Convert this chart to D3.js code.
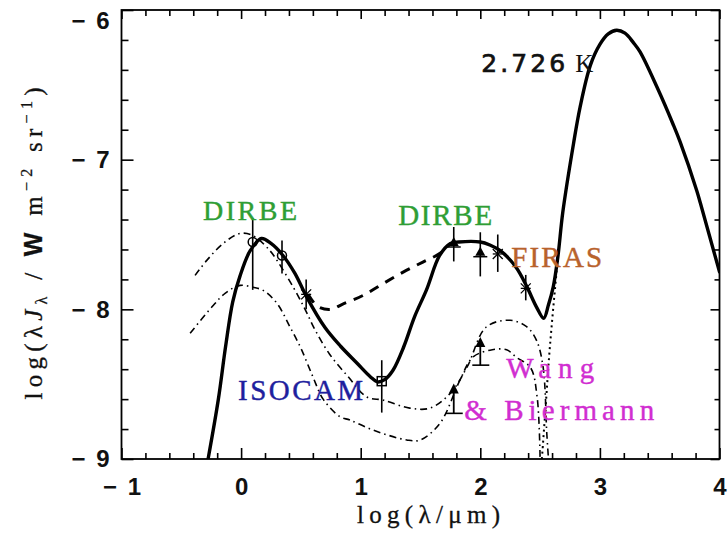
<!DOCTYPE html>
<html>
<head>
<meta charset="utf-8">
<script src="https://cdn.jsdelivr.net/npm/d3@7"></script>
<style>
  body { margin: 0; background: #fff; }
  svg { display: block; }
</style>
</head>
<body>
<svg id="chart" width="728" height="539"></svg>
<script>
// ---- data: log(lambda/um) vs log(lambda*J_lambda / W m^-2 sr^-1) ----

// total background model (thick solid), runs into the 2.726 K blackbody
const totalModel = [
  [-0.276, -9.0], [-0.19, -8.6], [-0.13, -8.25], [-0.07, -7.95], [-0.01, -7.78],
  [0.075, -7.61], [0.17, -7.527], [0.25, -7.56], [0.35, -7.64], [0.45, -7.76],
  [0.55, -7.92], [0.70, -8.12], [0.83, -8.245], [0.97, -8.36], [1.08, -8.45],
  [1.14, -8.485], [1.20, -8.47], [1.27, -8.407], [1.36, -8.25], [1.45, -8.05],
  [1.55, -7.87], [1.66, -7.64], [1.75, -7.56], [1.82, -7.55], [2.0, -7.55],
  [2.08, -7.57], [2.17, -7.61], [2.30, -7.72], [2.39, -7.85], [2.47, -7.985],
  [2.53, -8.06], [2.57, -7.97], [2.61, -7.85], [2.65, -7.64], [2.69, -7.35],
  [2.78, -6.89], [2.834, -6.65], [2.92, -6.37], [3.0, -6.23], [3.07, -6.16],
  [3.14, -6.135], [3.21, -6.155], [3.28, -6.218], [3.336, -6.28], [3.48, -6.52],
  [3.61, -6.76], [3.67, -6.88], [3.81, -7.207], [3.84, -7.29], [4.0, -7.75]
];

// short-wavelength side of the 2.726 K curve alone (dotted)
const cmbTail = [
  [2.515, -9.0], [2.548, -8.63], [2.575, -8.32], [2.60, -8.08], [2.625, -7.86], [2.65, -7.64]
];

// interpolation through the mid-infrared (thick dashed)
const midIRBridge = [
  [0.56, -7.9], [0.64, -7.98], [0.75, -8.0], [0.85, -7.965], [1.02, -7.907],
  [1.19, -7.827], [1.355, -7.751], [1.52, -7.684], [1.66, -7.627], [1.75, -7.56]
];

// Wang & Biermann model envelope (dash-dot)
const wangUpper = [
  [-0.385, -7.773], [-0.287, -7.673], [-0.15, -7.56], [-0.01, -7.493], [0.1, -7.507],
  [0.24, -7.607], [0.30, -7.673], [0.435, -7.85], [0.535, -8.0], [0.62, -8.14],
  [0.74, -8.3], [0.895, -8.45], [1.05, -8.585], [1.19, -8.607], [1.41, -8.66],
  [1.58, -8.66], [1.75, -8.56], [1.89, -8.385], [2.05, -8.118], [2.25, -8.073],
  [2.39, -8.118], [2.47, -8.207], [2.525, -8.385], [2.556, -8.83], [2.57, -9.0]
];
const wangLower = [
  [-0.426, -8.16], [-0.245, -7.985], [-0.134, -7.893], [-0.008, -7.84], [0.1, -7.853],
  [0.184, -7.873], [0.30, -7.96], [0.41, -8.12], [0.50, -8.26], [0.60, -8.45],
  [0.686, -8.6], [0.828, -8.718], [0.911, -8.74], [1.104, -8.807], [1.385, -8.873],
  [1.497, -8.873], [1.664, -8.76], [1.83, -8.473], [1.94, -8.318], [2.1, -8.27],
  [2.22, -8.27], [2.3, -8.32], [2.42, -8.39], [2.475, -8.585], [2.5, -9.0]
];

// measurements: x, value, error range, marker
const dirbeNear = [
  { x: 0.097, y: -7.55, lo: -7.87, hi: -7.39, mark: "circle" },
  { x: 0.342, y: -7.64, lo: -7.76, hi: -7.54, mark: "circle" },
  { x: 0.544, y: -7.90, lo: -8.00, hi: -7.80, mark: "star" }
];
const isocam = [
  { x: 1.176, y: -8.48, lo: -8.69, hi: -8.34, mark: "square" }
];
const dirbeFar = [
  { x: 1.778, y: -7.55, lo: -7.68, hi: -7.45, mark: "triangle" },
  { x: 2.0, y: -7.615, lo: -7.78, hi: -7.485, mark: "triangle" }
];
const firas = [
  { x: 2.146, y: -7.63, lo: -7.75, hi: -7.50, mark: "star" },
  { x: 2.380, y: -7.86, lo: -7.94, hi: -7.77, mark: "star" }
];
// lower limits (arrows): base value and arrow tip
const wangLimits = [
  { x: 1.778, base: -8.695, tip: -8.495 },
  { x: 2.0, base: -8.373, tip: -8.185 }
];

const xMajor = [-1, 0, 1, 2, 3, 4];
const yMajor = [-9, -8, -7, -6];

// ---- layout ----
const W = 728, H = 539;
const svg = d3.select("#chart");
const x = d3.scaleLinear().domain([-1, 4]).range([121.5, 719.5]);
const y = d3.scaleLinear().domain([-9, -6]).range([459, 10]);
const [x0, x1] = x.range();
const [y0, y1] = [y(-6), y(-9)];

const xMinor = d3.range(-1, 4.0001, 0.2).map(v => +v.toFixed(2)).filter(v => !xMajor.includes(v));
const yMinor = d3.range(-9, -5.9999, 0.2).map(v => +v.toFixed(2)).filter(v => !yMajor.includes(v));

svg.append("rect").attr("width", W).attr("height", H).attr("fill", "#fff");

svg.append("defs").append("clipPath").attr("id", "plotClip")
  .append("rect").attr("x", x0).attr("y", y0).attr("width", x1 - x0).attr("height", y1 - y0);

// ---- axes with inward ticks on all four sides ----
const fmt = d3.format("d");
const tickFont = "'Liberation Sans', Arial, sans-serif";
const serif = "'Liberation Serif', 'Times New Roman', serif";

function styleAxis(g) {
  g.select(".domain").remove();
  g.selectAll(".tick line").attr("stroke", "#000").attr("stroke-width", 1.6);
}

const gBottom = svg.append("g").attr("transform", `translate(0,${y1})`)
  .call(d3.axisBottom(x).tickValues(xMajor).tickFormat(fmt).tickSize(-11).tickPadding(19));
styleAxis(gBottom);
gBottom.selectAll("text").attr("font-family", tickFont).attr("font-weight", "bold")
  .attr("font-size", 24).attr("fill", "#111");
gBottom.selectAll(".tick").filter(d => d < 0).select("text")
  .attr("textLength", 38).attr("lengthAdjust", "spacing");

svg.append("g").attr("transform", `translate(0,${y1})`)
  .call(d3.axisBottom(x).tickValues(xMinor).tickFormat("").tickSize(-6)).call(styleAxis);

svg.append("g").attr("transform", `translate(0,${y0})`)
  .call(d3.axisTop(x).tickValues(xMajor).tickFormat("").tickSize(-9)).call(styleAxis);
svg.append("g").attr("transform", `translate(0,${y0})`)
  .call(d3.axisTop(x).tickValues(xMinor).tickFormat("").tickSize(-6)).call(styleAxis);

const gLeft = svg.append("g").attr("transform", `translate(${x0},0)`)
  .call(d3.axisLeft(y).tickValues(yMajor).tickFormat(fmt).tickSize(-12).tickPadding(12));
styleAxis(gLeft);
gLeft.selectAll("text").attr("font-family", tickFont).attr("font-weight", "bold")
  .attr("font-size", 24).attr("fill", "#111").attr("textLength", 38).attr("lengthAdjust", "spacing");
gLeft.selectAll(".tick").filter(d => d === -6).select("text").attr("dy", "0.75em");

svg.append("g").attr("transform", `translate(${x0},0)`)
  .call(d3.axisLeft(y).tickValues(yMinor).tickFormat("").tickSize(-7)).call(styleAxis);

svg.append("g").attr("transform", `translate(${x1},0)`)
  .call(d3.axisRight(y).tickValues(yMajor).tickFormat("").tickSize(-9)).call(styleAxis);
svg.append("g").attr("transform", `translate(${x1},0)`)
  .call(d3.axisRight(y).tickValues(yMinor).tickFormat("").tickSize(-5)).call(styleAxis);

// frame
svg.append("rect").attr("x", x0).attr("y", y0).attr("width", x1 - x0).attr("height", y1 - y0)
  .attr("fill", "none").attr("stroke", "#000").attr("stroke-width", 1.8);

// ---- curves ----
const line = d3.line().x(d => x(d[0])).y(d => y(d[1])).curve(d3.curveCatmullRom.alpha(0.5));
const plot = svg.append("g").attr("clip-path", "url(#plotClip)");

function curve(data, width, dash, cap) {
  plot.append("path").datum(data).attr("d", line)
    .attr("fill", "none").attr("stroke", "#000").attr("stroke-width", width)
    .attr("stroke-dasharray", dash).attr("stroke-linecap", cap || "butt")
    .attr("stroke-linejoin", "round");
}

curve(wangUpper, 1.6, "7,4,1.5,4");
curve(wangLower, 1.6, "7,4,1.5,4");
curve(cmbTail, 2, "2,3.5");
curve(midIRBridge, 3, "10,8");
curve(totalModel, 3.4, null, "round");

// ---- measurements ----
const marks = svg.append("g");

function errorBar(d) {
  marks.append("line").attr("x1", x(d.x)).attr("x2", x(d.x)).attr("y1", y(d.lo)).attr("y2", y(d.hi))
    .attr("stroke", "#000").attr("stroke-width", 1.6);
}

function marker(d) {
  const cx = x(d.x), cy = y(d.y);
  if (d.mark === "circle") {
    marks.append("circle").attr("cx", cx).attr("cy", cy).attr("r", 4.5)
      .attr("fill", "none").attr("stroke", "#000").attr("stroke-width", 1.5);
  } else if (d.mark === "square") {
    marks.append("rect").attr("x", cx - 4.5).attr("y", cy - 4.5).attr("width", 9).attr("height", 9)
      .attr("fill", "none").attr("stroke", "#000").attr("stroke-width", 1.5);
  } else if (d.mark === "triangle") {
    marks.append("path").attr("d", `M${cx - 5},${cy + 4}L${cx + 5},${cy + 4}L${cx},${cy - 5}Z`)
      .attr("fill", "#000");
    marks.append("line").attr("x1", cx - 7).attr("x2", cx + 7).attr("y1", cy + 5).attr("y2", cy + 5)
      .attr("stroke", "#000").attr("stroke-width", 1.5);
  } else if (d.mark === "star") {
    const s = 5;
    [[-s, -s, s, s], [-s, s, s, -s], [-s, 0, s, 0]].forEach(p => {
      marks.append("line").attr("x1", cx + p[0]).attr("y1", cy + p[1]).attr("x2", cx + p[2]).attr("y2", cy + p[3])
        .attr("stroke", "#000").attr("stroke-width", 1.3);
    });
  }
}

[...dirbeNear, ...isocam, ...dirbeFar, ...firas].forEach(d => { errorBar(d); marker(d); });

// lower-limit arrows
wangLimits.forEach(d => {
  const cx = x(d.x), yb = y(d.base), yt = y(d.tip);
  marks.append("line").attr("x1", cx).attr("x2", cx).attr("y1", yb).attr("y2", yt + 6)
    .attr("stroke", "#000").attr("stroke-width", 1.8);
  marks.append("line").attr("x1", cx - 8).attr("x2", cx + 9).attr("y1", yb).attr("y2", yb)
    .attr("stroke", "#000").attr("stroke-width", 1.6);
  marks.append("path").attr("d", `M${cx},${yt}L${cx - 5},${yt + 10}L${cx + 5},${yt + 10}Z`).attr("fill", "#000");
});

// ---- annotations ----
function label(txt, xv, yv, color, size, len) {
  return svg.append("text").attr("x", x(xv)).attr("y", y(yv)).text(txt)
    .attr("font-family", serif).attr("font-size", size).attr("fill", color)
    .attr("stroke", color).attr("stroke-width", 0.4)
    .attr("textLength", len).attr("lengthAdjust", "spacing");
}
const green = "#2f9e35", brown = "#b8622c", navy = "#1f1f9e", magenta = "#d12ed1";

label("DIRBE", -0.318, -7.405, green, 28, 94);
label("DIRBE", 1.313, -7.437, green, 29, 94);
label("FIRAS", 2.258, -7.717, brown, 29, 91);
label("ISOCAM", -0.025, -8.606, navy, 29, 125);
label("Wang", 2.216, -8.459, magenta, 29, 88);
label("& Biermann", 1.865, -8.739, magenta, 29, 190);

const tK = svg.append("text").attr("x", x(2.007)).attr("y", y(-6.414))
  .attr("font-size", 25).attr("fill", "#111");
tK.append("tspan").attr("font-family", "'DejaVu Sans', sans-serif")
  .attr("stroke", "#111").attr("stroke-width", 0.7)
  .attr("textLength", 84).attr("lengthAdjust", "spacing").text("2.726");
tK.append("tspan").attr("font-family", serif).attr("dx", 7).text("K");

// axis titles
svg.append("text").attr("x", (x0 + x1) / 2 + 8).attr("y", 523).attr("text-anchor", "middle")
  .attr("font-family", serif).attr("font-size", 25).attr("fill", "#111")
  .attr("stroke", "#111").attr("stroke-width", 0.3)
  .attr("textLength", 143).attr("lengthAdjust", "spacing")
  .text("log(λ/μm)");

const yt = svg.append("text")
  .attr("transform", `translate(42,${(y0 + y1) / 2 + 9}) rotate(-90)`)
  .attr("text-anchor", "middle").attr("font-family", serif).attr("font-size", 25).attr("fill", "#111")
  .attr("stroke", "#111").attr("stroke-width", 0.3)
  .attr("textLength", 312).attr("lengthAdjust", "spacing");
yt.append("tspan").text("log(λ");
yt.append("tspan").attr("font-style", "italic").text("J");
yt.append("tspan").attr("font-size", 16).attr("dy", 5).text("λ");
yt.append("tspan").attr("dy", -5).text(" / ");
yt.append("tspan").attr("font-family", tickFont).attr("font-weight", "bold").text("W");
yt.append("tspan").text(" m");
yt.append("tspan").attr("font-size", 16).attr("dy", -10).text("−2");
yt.append("tspan").attr("dy", 10).text(" sr");
yt.append("tspan").attr("font-size", 16).attr("dy", -10).text("−1");
yt.append("tspan").attr("dy", 10).text(")");
</script>
</body>
</html>
